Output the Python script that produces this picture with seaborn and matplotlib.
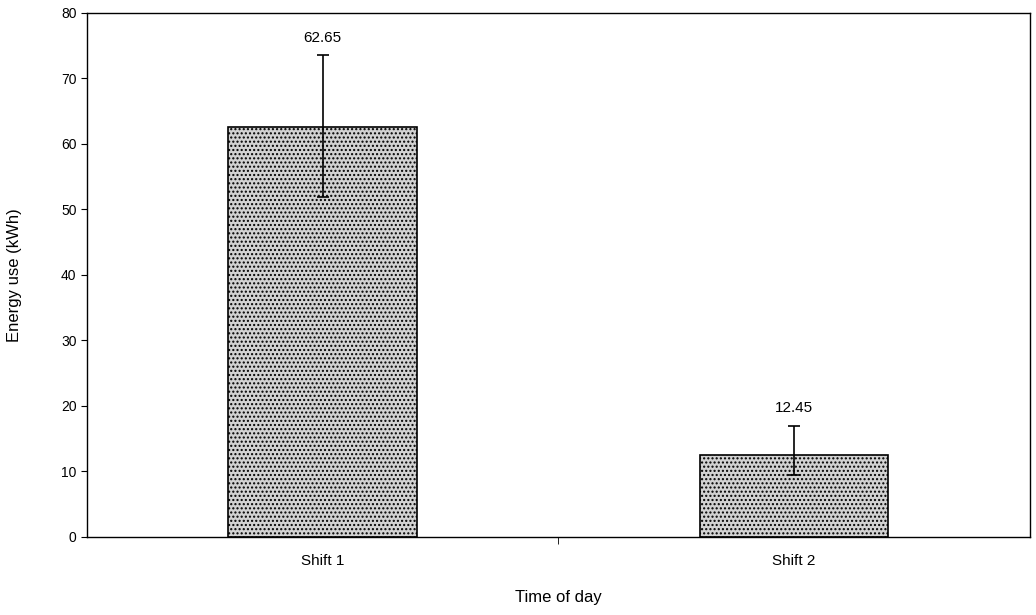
import matplotlib
matplotlib.use("Agg")
import matplotlib.pyplot as plt
import numpy as np
import pandas as pd
import seaborn as sns

# data
shifts = ["Shift 1", "Shift 2"]
energy = [62.65, 12.45]
err_low = [10.8, 3.0]
err_high = [10.9, 4.5]

df = pd.DataFrame({"shift": shifts, "energy": energy})

sns.set_style("white")
plt.rcParams["font.family"] = ["Liberation Sans", "DejaVu Sans"]
plt.rcParams["text.color"] = "black"
plt.rcParams["axes.labelcolor"] = "black"
plt.rcParams["xtick.color"] = "black"
plt.rcParams["ytick.color"] = "black"
plt.rcParams["hatch.color"] = "#7a7a7a"

fig = plt.figure(figsize=(10.36, 6.15), dpi=100)
ax = fig.add_axes([0.084, 0.127, 0.91, 0.852])

sns.barplot(data=df, x="shift", y="energy", color="#d2d2d2", width=0.4,
            errorbar=None, edgecolor="black", linewidth=1.2, ax=ax,
            saturation=1)
for p in ax.patches:
    p.set_hatch("....")
    p.set_edgecolor("black")

xs = np.arange(len(shifts))
ax.errorbar(xs, energy, yerr=[err_low, err_high], fmt="none",
            ecolor="black", elinewidth=1.2, capsize=4, capthick=1.2)
for x, v, eh in zip(xs, energy, err_high):
    ax.text(x, v + eh + 1.6, f"{v:.2f}", ha="center", va="bottom",
            fontsize=11)

ax.set_xlim(-0.5, 1.5)
ax.set_ylim(0, 80)
ax.set_yticks(range(0, 81, 10))
ax.set_xticks(xs)
ax.set_xticklabels(shifts, fontsize=11)
ax.tick_params(axis="y", labelsize=10, direction="out", length=4, left=True)
ax.tick_params(axis="x", length=0, pad=12)
# category separator tick
ax.set_xticks([0.5], minor=True)
ax.tick_params(axis="x", which="minor", direction="out", length=5, bottom=True)

for s in ax.spines.values():
    s.set_color("black")
    s.set_linewidth(1.0)

ax.set_xlabel("Time of day", fontsize=12, labelpad=16)
ax.set_ylabel("Energy use (kWh)", fontsize=12, labelpad=28)

fig.savefig("out.png", dpi=100)
